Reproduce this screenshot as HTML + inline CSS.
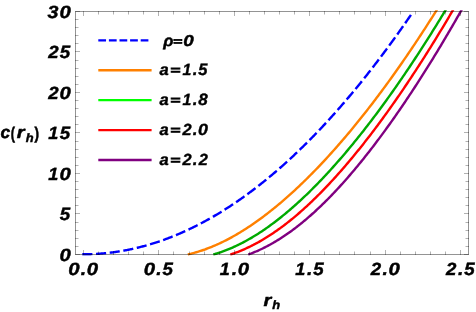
<!DOCTYPE html>
<html><head><meta charset="utf-8"><title>plot</title>
<style>
html,body{margin:0;padding:0;background:#fff;}
body{width:476px;height:312px;overflow:hidden;}
svg{display:block}
text{font-family:"Liberation Sans",sans-serif;font-weight:bold;font-style:italic;fill:#000;text-rendering:geometricPrecision;}
</style></head><body>
<svg width="476" height="312" viewBox="0 0 476 312">
<rect width="476" height="312" fill="#fff"/>
<defs><clipPath id="cp"><rect x="75.50" y="10.20" width="393.00" height="245.60"/></clipPath></defs>

<g clip-path="url(#cp)" fill="none" stroke-width="2.4" stroke-linejoin="round">
<path d="M82.29 254.30 L83.12 254.30 L83.94 254.30 L84.76 254.29 L85.59 254.29 L86.41 254.28 L87.24 254.26 L88.06 254.25 L88.88 254.23 L89.71 254.21 L90.53 254.18 L91.35 254.15 L92.18 254.12 L93.00 254.09 L93.82 254.05 L94.65 254.01 L95.47 253.96 L96.30 253.92 L97.12 253.87 L97.94 253.82 L98.77 253.76 L99.59 253.70 L100.41 253.64 L101.24 253.57 L102.06 253.51 L102.89 253.44 L103.71 253.36 L104.53 253.29 L105.36 253.21 L106.18 253.12 L107.00 253.04 L107.83 252.95 L108.65 252.86 L109.47 252.76 L110.30 252.66 L111.12 252.56 L111.95 252.46 L112.77 252.35 L113.59 252.24 L114.42 252.13 L115.24 252.01 L116.06 251.89 L116.89 251.77 L117.71 251.65 L118.53 251.52 L119.36 251.39 L120.18 251.25 L121.01 251.11 L121.83 250.97 L122.65 250.83 L123.48 250.68 L124.30 250.53 L125.12 250.38 L125.95 250.23 L126.77 250.07 L127.59 249.91 L128.42 249.74 L129.24 249.57 L130.07 249.40 L130.89 249.23 L131.71 249.05 L132.54 248.87 L133.36 248.69 L134.18 248.51 L135.01 248.32 L135.83 248.13 L136.66 247.93 L137.48 247.73 L138.30 247.53 L139.13 247.33 L139.95 247.12 L140.77 246.91 L141.60 246.70 L142.42 246.48 L143.24 246.26 L144.07 246.04 L144.89 245.82 L145.72 245.59 L146.54 245.36 L147.36 245.12 L148.19 244.89 L149.01 244.65 L149.83 244.40 L150.66 244.16 L151.48 243.91 L152.30 243.65 L153.13 243.40 L153.95 243.14 L154.78 242.88 L155.60 242.62 L156.42 242.35 L157.25 242.08 L158.07 241.80 L158.89 241.53 L159.72 241.25 L160.54 240.97 L161.37 240.68 L162.19 240.39 L163.01 240.10 L163.84 239.81 L164.66 239.51 L165.48 239.21 L166.31 238.90 L167.13 238.60 L167.95 238.29 L168.78 237.97 L169.60 237.66 L170.43 237.34 L171.25 237.02 L172.07 236.69 L172.90 236.37 L173.72 236.03 L174.54 235.70 L175.37 235.36 L176.19 235.02 L177.01 234.68 L177.84 234.33 L178.66 233.99 L179.49 233.63 L180.31 233.28 L181.13 232.92 L181.96 232.56 L182.78 232.20 L183.60 231.83 L184.43 231.46 L185.25 231.08 L186.08 230.71 L186.90 230.33 L187.72 229.95 L188.55 229.56 L189.37 229.17 L190.19 228.78 L191.02 228.39 L191.84 227.99 L192.66 227.59 L193.49 227.19 L194.31 226.78 L195.14 226.37 L195.96 225.96 L196.78 225.54 L197.61 225.12 L198.43 224.70 L199.25 224.28 L200.08 223.85 L200.90 223.42 L201.72 222.98 L202.55 222.55 L203.37 222.11 L204.20 221.67 L205.02 221.22 L205.84 220.77 L206.67 220.32 L207.49 219.86 L208.31 219.41 L209.14 218.95 L209.96 218.48 L210.79 218.01 L211.61 217.54 L212.43 217.07 L213.26 216.60 L214.08 216.12 L214.90 215.63 L215.73 215.15 L216.55 214.66 L217.37 214.17 L218.20 213.68 L219.02 213.18 L219.85 212.68 L220.67 212.17 L221.49 211.67 L222.32 211.16 L223.14 210.65 L223.96 210.13 L224.79 209.61 L225.61 209.09 L226.43 208.57 L227.26 208.04 L228.08 207.51 L228.91 206.98 L229.73 206.44 L230.55 205.90 L231.38 205.36 L232.20 204.81 L233.02 204.26 L233.85 203.71 L234.67 203.16 L235.50 202.60 L236.32 202.04 L237.14 201.47 L237.97 200.91 L238.79 200.34 L239.61 199.76 L240.44 199.19 L241.26 198.61 L242.08 198.03 L242.91 197.44 L243.73 196.85 L244.56 196.26 L245.38 195.67 L246.20 195.07 L247.03 194.47 L247.85 193.87 L248.67 193.26 L249.50 192.65 L250.32 192.04 L251.14 191.43 L251.97 190.81 L252.79 190.19 L253.62 189.56 L254.44 188.94 L255.26 188.30 L256.09 187.67 L256.91 187.04 L257.73 186.40 L258.56 185.75 L259.38 185.11 L260.21 184.46 L261.03 183.81 L261.85 183.15 L262.68 182.50 L263.50 181.84 L264.32 181.17 L265.15 180.51 L265.97 179.84 L266.79 179.16 L267.62 178.49 L268.44 177.81 L269.27 177.13 L270.09 176.44 L270.91 175.75 L271.74 175.06 L272.56 174.37 L273.38 173.67 L274.21 172.97 L275.03 172.27 L275.85 171.56 L276.68 170.85 L277.50 170.14 L278.33 169.43 L279.15 168.71 L279.97 167.99 L280.80 167.26 L281.62 166.54 L282.44 165.81 L283.27 165.07 L284.09 164.34 L284.92 163.60 L285.74 162.86 L286.56 162.11 L287.39 161.36 L288.21 160.61 L289.03 159.86 L289.86 159.10 L290.68 158.34 L291.50 157.58 L292.33 156.81 L293.15 156.04 L293.98 155.27 L294.80 154.49 L295.62 153.71 L296.45 152.93 L297.27 152.15 L298.09 151.36 L298.92 150.57 L299.74 149.78 L300.56 148.98 L301.39 148.18 L302.21 147.38 L303.04 146.57 L303.86 145.76 L304.68 144.95 L305.51 144.14 L306.33 143.32 L307.15 142.50 L307.98 141.67 L308.80 140.85 L309.63 140.02 L310.45 139.18 L311.27 138.35 L312.10 137.51 L312.92 136.67 L313.74 135.82 L314.57 134.97 L315.39 134.12 L316.21 133.27 L317.04 132.41 L317.86 131.55 L318.69 130.69 L319.51 129.82 L320.33 128.95 L321.16 128.08 L321.98 127.20 L322.80 126.33 L323.63 125.44 L324.45 124.56 L325.27 123.67 L326.10 122.78 L326.92 121.89 L327.75 120.99 L328.57 120.09 L329.39 119.19 L330.22 118.28 L331.04 117.38 L331.86 116.46 L332.69 115.55 L333.51 114.63 L334.34 113.71 L335.16 112.79 L335.98 111.86 L336.81 110.93 L337.63 110.00 L338.45 109.06 L339.28 108.12 L340.10 107.18 L340.92 106.24 L341.75 105.29 L342.57 104.34 L343.40 103.38 L344.22 102.43 L345.04 101.47 L345.87 100.50 L346.69 99.54 L347.51 98.57 L348.34 97.60 L349.16 96.62 L349.98 95.64 L350.81 94.66 L351.63 93.68 L352.46 92.69 L353.28 91.70 L354.10 90.71 L354.93 89.71 L355.75 88.71 L356.57 87.71 L357.40 86.70 L358.22 85.70 L359.04 84.68 L359.87 83.67 L360.69 82.65 L361.52 81.63 L362.34 80.61 L363.16 79.58 L363.99 78.55 L364.81 77.52 L365.63 76.48 L366.46 75.45 L367.28 74.40 L368.11 73.36 L368.93 72.31 L369.75 71.26 L370.58 70.21 L371.40 69.15 L372.22 68.09 L373.05 67.03 L373.87 65.96 L374.69 64.89 L375.52 63.82 L376.34 62.75 L377.17 61.67 L377.99 60.59 L378.81 59.50 L379.64 58.42 L380.46 57.33 L381.28 56.23 L382.11 55.14 L382.93 54.04 L383.75 52.94 L384.58 51.83 L385.40 50.72 L386.23 49.61 L387.05 48.50 L387.87 47.38 L388.70 46.26 L389.52 45.14 L390.34 44.01 L391.17 42.88 L391.99 41.75 L392.82 40.61 L393.64 39.47 L394.46 38.33 L395.29 37.19 L396.11 36.04 L396.93 34.89 L397.76 33.74 L398.58 32.58 L399.40 31.42 L400.23 30.26 L401.05 29.09 L401.88 27.92 L402.70 26.75 L403.52 25.58 L404.35 24.40 L405.17 23.22 L405.99 22.03 L406.82 20.85 L407.64 19.66 L408.46 18.46 L409.29 17.27 L410.11 16.07 L410.94 14.87" stroke="#0000ff" stroke-dasharray="10.129 3.620"/>
<path d="M187.80 254.48 L189.21 254.14 L190.62 253.80 L192.03 253.44 L193.44 253.06 L194.85 252.67 L196.26 252.26 L197.67 251.84 L199.09 251.41 L200.50 250.96 L201.91 250.49 L203.32 250.01 L204.73 249.51 L206.14 249.00 L207.55 248.48 L208.96 247.94 L210.37 247.38 L211.78 246.81 L213.19 246.23 L214.60 245.63 L216.01 245.01 L217.42 244.39 L218.83 243.74 L220.24 243.09 L221.65 242.42 L223.07 241.73 L224.48 241.03 L225.89 240.32 L227.30 239.59 L228.71 238.85 L230.12 238.10 L231.53 237.33 L232.94 236.55 L234.35 235.76 L235.76 234.95 L237.17 234.13 L238.58 233.29 L239.99 232.45 L241.40 231.59 L242.81 230.71 L244.22 229.83 L245.63 228.93 L247.04 228.02 L248.46 227.10 L249.87 226.16 L251.28 225.21 L252.69 224.25 L254.10 223.28 L255.51 222.29 L256.92 221.29 L258.33 220.28 L259.74 219.26 L261.15 218.23 L262.56 217.18 L263.97 216.13 L265.38 215.06 L266.79 213.98 L268.20 212.89 L269.61 211.78 L271.02 210.67 L272.44 209.54 L273.85 208.40 L275.26 207.25 L276.67 206.09 L278.08 204.92 L279.49 203.74 L280.90 202.55 L282.31 201.34 L283.72 200.13 L285.13 198.90 L286.54 197.67 L287.95 196.42 L289.36 195.16 L290.77 193.89 L292.18 192.61 L293.59 191.32 L295.00 190.02 L296.41 188.71 L297.83 187.39 L299.24 186.05 L300.65 184.71 L302.06 183.36 L303.47 181.99 L304.88 180.62 L306.29 179.24 L307.70 177.84 L309.11 176.44 L310.52 175.02 L311.93 173.60 L313.34 172.16 L314.75 170.72 L316.16 169.27 L317.57 167.80 L318.98 166.33 L320.39 164.84 L321.81 163.35 L323.22 161.84 L324.63 160.33 L326.04 158.81 L327.45 157.27 L328.86 155.73 L330.27 154.18 L331.68 152.61 L333.09 151.04 L334.50 149.46 L335.91 147.87 L337.32 146.26 L338.73 144.65 L340.14 143.03 L341.55 141.40 L342.96 139.76 L344.37 138.11 L345.79 136.46 L347.20 134.79 L348.61 133.11 L350.02 131.42 L351.43 129.73 L352.84 128.02 L354.25 126.30 L355.66 124.58 L357.07 122.84 L358.48 121.10 L359.89 119.35 L361.30 117.59 L362.71 115.81 L364.12 114.03 L365.53 112.24 L366.94 110.44 L368.35 108.63 L369.76 106.82 L371.18 104.99 L372.59 103.15 L374.00 101.31 L375.41 99.45 L376.82 97.59 L378.23 95.71 L379.64 93.83 L381.05 91.94 L382.46 90.04 L383.87 88.13 L385.28 86.21 L386.69 84.28 L388.10 82.34 L389.51 80.40 L390.92 78.44 L392.33 76.48 L393.74 74.50 L395.16 72.52 L396.57 70.53 L397.98 68.53 L399.39 66.52 L400.80 64.50 L402.21 62.47 L403.62 60.43 L405.03 58.38 L406.44 56.33 L407.85 54.26 L409.26 52.19 L410.67 50.11 L412.08 48.02 L413.49 45.92 L414.90 43.81 L416.31 41.69 L417.72 39.56 L419.13 37.42 L420.55 35.28 L421.96 33.12 L423.37 30.96 L424.78 28.79 L426.19 26.61 L427.60 24.41 L429.01 22.22 L430.42 20.01 L431.83 17.79 L433.24 15.56 L434.65 13.33 L436.06 11.08 L437.47 8.83 L438.88 6.57 L440.29 4.30 L441.70 2.02 L443.11 -0.27 L444.53 -2.57 L445.94 -4.87 L447.35 -7.19 L448.76 -9.51 L450.17 -11.85 L451.58 -14.19 L452.99 -16.54 L454.40 -18.90 L455.81 -21.27 L457.22 -23.65 L458.63 -26.04 L460.04 -28.43 L461.45 -30.84 L462.86 -33.25 L464.27 -35.67 L465.68 -38.10 L467.09 -40.54 L468.50 -42.99" stroke="#ff8000"/>
<path d="M213.33 254.52 L214.61 254.15 L215.89 253.76 L217.17 253.36 L218.46 252.95 L219.74 252.52 L221.02 252.08 L222.30 251.63 L223.59 251.16 L224.87 250.68 L226.15 250.19 L227.43 249.69 L228.72 249.17 L230.00 248.64 L231.28 248.09 L232.56 247.53 L233.84 246.96 L235.13 246.37 L236.41 245.78 L237.69 245.17 L238.97 244.54 L240.26 243.90 L241.54 243.25 L242.82 242.59 L244.10 241.91 L245.39 241.23 L246.67 240.52 L247.95 239.81 L249.23 239.08 L250.51 238.34 L251.80 237.59 L253.08 236.83 L254.36 236.05 L255.64 235.26 L256.93 234.46 L258.21 233.64 L259.49 232.82 L260.77 231.98 L262.06 231.13 L263.34 230.27 L264.62 229.39 L265.90 228.51 L267.18 227.61 L268.47 226.70 L269.75 225.78 L271.03 224.84 L272.31 223.90 L273.60 222.94 L274.88 221.97 L276.16 221.00 L277.44 220.01 L278.73 219.00 L280.01 217.99 L281.29 216.97 L282.57 215.93 L283.85 214.89 L285.14 213.83 L286.42 212.76 L287.70 211.69 L288.98 210.60 L290.27 209.50 L291.55 208.39 L292.83 207.27 L294.11 206.14 L295.40 204.99 L296.68 203.84 L297.96 202.68 L299.24 201.51 L300.52 200.33 L301.81 199.13 L303.09 197.93 L304.37 196.72 L305.65 195.50 L306.94 194.26 L308.22 193.02 L309.50 191.77 L310.78 190.51 L312.06 189.23 L313.35 187.95 L314.63 186.66 L315.91 185.36 L317.19 184.05 L318.48 182.73 L319.76 181.40 L321.04 180.06 L322.32 178.72 L323.61 177.36 L324.89 175.99 L326.17 174.62 L327.45 173.23 L328.73 171.84 L330.02 170.44 L331.30 169.03 L332.58 167.60 L333.86 166.17 L335.15 164.74 L336.43 163.29 L337.71 161.83 L338.99 160.37 L340.28 158.89 L341.56 157.41 L342.84 155.92 L344.12 154.42 L345.40 152.91 L346.69 151.39 L347.97 149.86 L349.25 148.33 L350.53 146.79 L351.82 145.23 L353.10 143.67 L354.38 142.11 L355.66 140.53 L356.95 138.94 L358.23 137.35 L359.51 135.75 L360.79 134.13 L362.07 132.52 L363.36 130.89 L364.64 129.25 L365.92 127.61 L367.20 125.96 L368.49 124.30 L369.77 122.63 L371.05 120.95 L372.33 119.27 L373.62 117.57 L374.90 115.87 L376.18 114.16 L377.46 112.45 L378.74 110.72 L380.03 108.99 L381.31 107.25 L382.59 105.50 L383.87 103.74 L385.16 101.98 L386.44 100.21 L387.72 98.42 L389.00 96.64 L390.28 94.84 L391.57 93.03 L392.85 91.22 L394.13 89.40 L395.41 87.58 L396.70 85.74 L397.98 83.90 L399.26 82.04 L400.54 80.19 L401.83 78.32 L403.11 76.44 L404.39 74.56 L405.67 72.67 L406.95 70.78 L408.24 68.87 L409.52 66.96 L410.80 65.04 L412.08 63.11 L413.37 61.17 L414.65 59.23 L415.93 57.28 L417.21 55.32 L418.50 53.35 L419.78 51.38 L421.06 49.40 L422.34 47.41 L423.62 45.41 L424.91 43.41 L426.19 41.40 L427.47 39.38 L428.75 37.35 L430.04 35.32 L431.32 33.27 L432.60 31.22 L433.88 29.17 L435.17 27.10 L436.45 25.03 L437.73 22.95 L439.01 20.86 L440.29 18.77 L441.58 16.67 L442.86 14.56 L444.14 12.44 L445.42 10.32 L446.71 8.19 L447.99 6.05 L449.27 3.90 L450.55 1.75 L451.84 -0.41 L453.12 -2.58 L454.40 -4.76 L455.68 -6.94 L456.96 -9.13 L458.25 -11.33 L459.53 -13.54 L460.81 -15.75 L462.09 -17.97 L463.38 -20.20 L464.66 -22.43 L465.94 -24.67 L467.22 -26.92 L468.50 -29.18" stroke="#00aa00"/>
<path d="M230.34 254.55 L231.54 254.15 L232.73 253.75 L233.93 253.33 L235.13 252.90 L236.32 252.46 L237.52 252.01 L238.72 251.55 L239.91 251.07 L241.11 250.58 L242.31 250.08 L243.50 249.57 L244.70 249.05 L245.90 248.51 L247.09 247.96 L248.29 247.40 L249.49 246.83 L250.69 246.25 L251.88 245.65 L253.08 245.04 L254.28 244.42 L255.47 243.79 L256.67 243.15 L257.87 242.49 L259.06 241.83 L260.26 241.15 L261.46 240.46 L262.65 239.76 L263.85 239.05 L265.05 238.32 L266.24 237.58 L267.44 236.84 L268.64 236.08 L269.83 235.31 L271.03 234.53 L272.23 233.73 L273.42 232.93 L274.62 232.11 L275.82 231.29 L277.01 230.45 L278.21 229.60 L279.41 228.74 L280.61 227.87 L281.80 226.98 L283.00 226.09 L284.20 225.19 L285.39 224.27 L286.59 223.35 L287.79 222.41 L288.98 221.47 L290.18 220.51 L291.38 219.54 L292.57 218.56 L293.77 217.57 L294.97 216.58 L296.16 215.57 L297.36 214.55 L298.56 213.52 L299.75 212.48 L300.95 211.43 L302.15 210.37 L303.34 209.30 L304.54 208.22 L305.74 207.13 L306.94 206.03 L308.13 204.92 L309.33 203.80 L310.53 202.67 L311.72 201.53 L312.92 200.39 L314.12 199.23 L315.31 198.06 L316.51 196.89 L317.71 195.70 L318.90 194.51 L320.10 193.30 L321.30 192.09 L322.49 190.87 L323.69 189.63 L324.89 188.39 L326.08 187.14 L327.28 185.88 L328.48 184.62 L329.67 183.34 L330.87 182.05 L332.07 180.76 L333.27 179.46 L334.46 178.14 L335.66 176.82 L336.86 175.50 L338.05 174.16 L339.25 172.81 L340.45 171.46 L341.64 170.09 L342.84 168.72 L344.04 167.34 L345.23 165.95 L346.43 164.55 L347.63 163.15 L348.82 161.74 L350.02 160.31 L351.22 158.88 L352.41 157.45 L353.61 156.00 L354.81 154.55 L356.00 153.08 L357.20 151.61 L358.40 150.13 L359.60 148.65 L360.79 147.15 L361.99 145.65 L363.19 144.14 L364.38 142.62 L365.58 141.10 L366.78 139.56 L367.97 138.02 L369.17 136.47 L370.37 134.92 L371.56 133.35 L372.76 131.78 L373.96 130.20 L375.15 128.62 L376.35 127.02 L377.55 125.42 L378.74 123.81 L379.94 122.19 L381.14 120.57 L382.33 118.94 L383.53 117.30 L384.73 115.65 L385.92 113.99 L387.12 112.33 L388.32 110.66 L389.52 108.99 L390.71 107.30 L391.91 105.61 L393.11 103.92 L394.30 102.21 L395.50 100.50 L396.70 98.78 L397.89 97.05 L399.09 95.32 L400.29 93.58 L401.48 91.83 L402.68 90.07 L403.88 88.31 L405.07 86.54 L406.27 84.77 L407.47 82.98 L408.66 81.19 L409.86 79.40 L411.06 77.59 L412.25 75.78 L413.45 73.96 L414.65 72.14 L415.85 70.30 L417.04 68.47 L418.24 66.62 L419.44 64.77 L420.63 62.91 L421.83 61.04 L423.03 59.17 L424.22 57.29 L425.42 55.40 L426.62 53.51 L427.81 51.61 L429.01 49.70 L430.21 47.78 L431.40 45.86 L432.60 43.94 L433.80 42.00 L434.99 40.06 L436.19 38.11 L437.39 36.16 L438.58 34.20 L439.78 32.23 L440.98 30.25 L442.18 28.27 L443.37 26.29 L444.57 24.29 L445.77 22.29 L446.96 20.28 L448.16 18.27 L449.36 16.25 L450.55 14.22 L451.75 12.19 L452.95 10.14 L454.14 8.10 L455.34 6.04 L456.54 3.98 L457.73 1.92 L458.93 -0.16 L460.13 -2.24 L461.32 -4.32 L462.52 -6.42 L463.72 -8.52 L464.91 -10.62 L466.11 -12.74 L467.31 -14.86 L468.50 -16.98" stroke="#ff0000"/>
<path d="M248.28 254.58 L249.39 254.17 L250.49 253.75 L251.60 253.32 L252.71 252.89 L253.81 252.44 L254.92 251.98 L256.03 251.51 L257.13 251.03 L258.24 250.54 L259.35 250.03 L260.45 249.52 L261.56 249.00 L262.67 248.46 L263.77 247.92 L264.88 247.37 L265.99 246.80 L267.09 246.23 L268.20 245.64 L269.31 245.04 L270.41 244.44 L271.52 243.82 L272.63 243.19 L273.73 242.55 L274.84 241.90 L275.95 241.24 L277.05 240.57 L278.16 239.89 L279.27 239.20 L280.37 238.50 L281.48 237.79 L282.59 237.06 L283.69 236.33 L284.80 235.59 L285.91 234.83 L287.01 234.07 L288.12 233.30 L289.23 232.51 L290.33 231.72 L291.44 230.92 L292.55 230.10 L293.65 229.28 L294.76 228.44 L295.87 227.60 L296.97 226.75 L298.08 225.88 L299.19 225.01 L300.29 224.13 L301.40 223.23 L302.51 222.33 L303.61 221.42 L304.72 220.50 L305.83 219.56 L306.93 218.62 L308.04 217.67 L309.15 216.71 L310.25 215.74 L311.36 214.76 L312.47 213.77 L313.57 212.77 L314.68 211.77 L315.79 210.75 L316.89 209.72 L318.00 208.69 L319.11 207.65 L320.21 206.59 L321.32 205.53 L322.43 204.46 L323.53 203.38 L324.64 202.29 L325.75 201.19 L326.85 200.09 L327.96 198.97 L329.07 197.85 L330.17 196.71 L331.28 195.57 L332.39 194.42 L333.49 193.26 L334.60 192.10 L335.71 190.92 L336.81 189.74 L337.92 188.54 L339.03 187.34 L340.13 186.13 L341.24 184.92 L342.35 183.69 L343.45 182.46 L344.56 181.21 L345.67 179.96 L346.77 178.70 L347.88 177.44 L348.99 176.16 L350.09 174.88 L351.20 173.59 L352.31 172.29 L353.41 170.99 L354.52 169.67 L355.63 168.35 L356.73 167.02 L357.84 165.68 L358.95 164.34 L360.05 162.99 L361.16 161.63 L362.27 160.26 L363.37 158.88 L364.48 157.50 L365.59 156.11 L366.69 154.71 L367.80 153.31 L368.91 151.90 L370.01 150.48 L371.12 149.05 L372.23 147.61 L373.33 146.17 L374.44 144.72 L375.55 143.27 L376.65 141.80 L377.76 140.33 L378.87 138.86 L379.97 137.37 L381.08 135.88 L382.19 134.38 L383.29 132.88 L384.40 131.36 L385.51 129.84 L386.61 128.32 L387.72 126.78 L388.83 125.24 L389.93 123.70 L391.04 122.14 L392.15 120.58 L393.25 119.01 L394.36 117.44 L395.47 115.86 L396.57 114.27 L397.68 112.68 L398.79 111.08 L399.89 109.47 L401.00 107.86 L402.11 106.24 L403.21 104.61 L404.32 102.97 L405.43 101.33 L406.53 99.69 L407.64 98.03 L408.75 96.37 L409.85 94.71 L410.96 93.04 L412.07 91.36 L413.17 89.67 L414.28 87.98 L415.39 86.28 L416.49 84.58 L417.60 82.87 L418.71 81.15 L419.81 79.43 L420.92 77.70 L422.03 75.96 L423.13 74.22 L424.24 72.47 L425.35 70.72 L426.45 68.96 L427.56 67.19 L428.67 65.42 L429.77 63.64 L430.88 61.85 L431.99 60.06 L433.09 58.27 L434.20 56.46 L435.31 54.65 L436.41 52.84 L437.52 51.02 L438.63 49.19 L439.73 47.36 L440.84 45.52 L441.95 43.67 L443.05 41.82 L444.16 39.97 L445.27 38.10 L446.37 36.23 L447.48 34.36 L448.59 32.48 L449.69 30.59 L450.80 28.70 L451.91 26.80 L453.01 24.90 L454.12 22.99 L455.23 21.07 L456.33 19.15 L457.44 17.22 L458.55 15.29 L459.65 13.35 L460.76 11.40 L461.87 9.45 L462.97 7.50 L464.08 5.54 L465.19 3.57 L466.29 1.59 L467.40 -0.39 L468.50 -2.37" stroke="#800080"/>
</g>
<path d="M83.5 255.0v-5.0M83.5 11.0v5.0M98.5 255.0v-3.5M98.5 11.0v3.5M113.5 255.0v-3.5M113.5 11.0v3.5M128.5 255.0v-3.5M128.5 11.0v3.5M143.5 255.0v-3.5M143.5 11.0v3.5M158.5 255.0v-5.0M158.5 11.0v5.0M173.5 255.0v-3.5M173.5 11.0v3.5M189.5 255.0v-3.5M189.5 11.0v3.5M204.5 255.0v-3.5M204.5 11.0v3.5M219.5 255.0v-3.5M219.5 11.0v3.5M234.5 255.0v-5.0M234.5 11.0v5.0M249.5 255.0v-3.5M249.5 11.0v3.5M264.5 255.0v-3.5M264.5 11.0v3.5M279.5 255.0v-3.5M279.5 11.0v3.5M294.5 255.0v-3.5M294.5 11.0v3.5M309.5 255.0v-5.0M309.5 11.0v5.0M324.5 255.0v-3.5M324.5 11.0v3.5M339.5 255.0v-3.5M339.5 11.0v3.5M354.5 255.0v-3.5M354.5 11.0v3.5M370.5 255.0v-3.5M370.5 11.0v3.5M385.5 255.0v-5.0M385.5 11.0v5.0M400.5 255.0v-3.5M400.5 11.0v3.5M415.5 255.0v-3.5M415.5 11.0v3.5M430.5 255.0v-3.5M430.5 11.0v3.5M445.5 255.0v-3.5M445.5 11.0v3.5M460.5 255.0v-5.0M460.5 11.0v5.0M75.0 254.5h5.0M469.0 254.5h-5.0M75.0 246.5h3.5M469.0 246.5h-3.5M75.0 238.5h3.5M469.0 238.5h-3.5M75.0 230.5h3.5M469.0 230.5h-3.5M75.0 222.5h3.5M469.0 222.5h-3.5M75.0 213.5h5.0M469.0 213.5h-5.0M75.0 205.5h3.5M469.0 205.5h-3.5M75.0 197.5h3.5M469.0 197.5h-3.5M75.0 189.5h3.5M469.0 189.5h-3.5M75.0 181.5h3.5M469.0 181.5h-3.5M75.0 173.5h5.0M469.0 173.5h-5.0M75.0 165.5h3.5M469.0 165.5h-3.5M75.0 157.5h3.5M469.0 157.5h-3.5M75.0 149.5h3.5M469.0 149.5h-3.5M75.0 141.5h3.5M469.0 141.5h-3.5M75.0 132.5h5.0M469.0 132.5h-5.0M75.0 124.5h3.5M469.0 124.5h-3.5M75.0 116.5h3.5M469.0 116.5h-3.5M75.0 108.5h3.5M469.0 108.5h-3.5M75.0 100.5h3.5M469.0 100.5h-3.5M75.0 92.5h5.0M469.0 92.5h-5.0M75.0 84.5h3.5M469.0 84.5h-3.5M75.0 76.5h3.5M469.0 76.5h-3.5M75.0 68.5h3.5M469.0 68.5h-3.5M75.0 60.5h3.5M469.0 60.5h-3.5M75.0 51.5h5.0M469.0 51.5h-5.0M75.0 43.5h3.5M469.0 43.5h-3.5M75.0 35.5h3.5M469.0 35.5h-3.5M75.0 27.5h3.5M469.0 27.5h-3.5M75.0 19.5h3.5M469.0 19.5h-3.5M75.0 11.5h5.0M469.0 11.5h-5.0" stroke="#000" stroke-opacity="0.30" stroke-width="1" fill="none"/>
<rect x="75.5" y="11.5" width="393.0" height="243.0" fill="none" stroke="#000" stroke-opacity="0.42" stroke-width="1"/>
<path d="M98.3 40.35H148.4" stroke="#0000ff" stroke-width="2.3" stroke-dasharray="7.75 2.85" fill="none"/>
<path d="M98.3 70.25H151.6" stroke="#ff8000" stroke-width="2.3" fill="none"/>
<path d="M98.3 100.20H151.6" stroke="#00ff00" stroke-width="2.3" fill="none"/>
<path d="M98.3 130.10H151.6" stroke="#ff0000" stroke-width="2.3" fill="none"/>
<path d="M98.3 160.00H151.6" stroke="#800080" stroke-width="2.3" fill="none"/>
<g opacity="0.999">
<text transform="translate(59.56 260.69) scale(1.273 1.106)" font-size="16" stroke="#000" stroke-width="0.38">0</text>
<text transform="translate(59.79 219.69) scale(1.171 1.109)" font-size="16" stroke="#000" stroke-width="0.39">5</text>
<text transform="translate(48.25 179.62) scale(1.128 1.103)" font-size="16" stroke="#000" stroke-width="0.40">1</text>
<text transform="translate(59.56 179.69) scale(1.273 1.106)" font-size="16" stroke="#000" stroke-width="0.38">0</text>
<text transform="translate(48.25 138.62) scale(1.128 1.103)" font-size="16" stroke="#000" stroke-width="0.40">1</text>
<text transform="translate(59.79 138.69) scale(1.171 1.109)" font-size="16" stroke="#000" stroke-width="0.39">5</text>
<text transform="translate(48.20 98.62) scale(1.164 1.100)" font-size="16" stroke="#000" stroke-width="0.40">2</text>
<text transform="translate(59.56 98.69) scale(1.273 1.106)" font-size="16" stroke="#000" stroke-width="0.38">0</text>
<text transform="translate(48.20 57.62) scale(1.164 1.100)" font-size="16" stroke="#000" stroke-width="0.40">2</text>
<text transform="translate(59.79 57.69) scale(1.171 1.109)" font-size="16" stroke="#000" stroke-width="0.39">5</text>
<text transform="translate(47.59 17.69) scale(1.228 1.106)" font-size="16" stroke="#000" stroke-width="0.39">3</text>
<text transform="translate(59.56 17.69) scale(1.273 1.106)" font-size="16" stroke="#000" stroke-width="0.38">0</text>
<text transform="translate(68.34 275.09) scale(1.273 1.106)" font-size="16" stroke="#000" stroke-width="0.38">0</text>
<text transform="translate(80.81 275.02) scale(1.217 1.167)" font-size="16" stroke="#000" stroke-width="0.38">.</text>
<text transform="translate(86.84 275.09) scale(1.273 1.106)" font-size="16" stroke="#000" stroke-width="0.38">0</text>
<text transform="translate(143.77 275.09) scale(1.273 1.106)" font-size="16" stroke="#000" stroke-width="0.38">0</text>
<text transform="translate(156.24 275.02) scale(1.217 1.167)" font-size="16" stroke="#000" stroke-width="0.38">.</text>
<text transform="translate(162.51 275.09) scale(1.171 1.109)" font-size="16" stroke="#000" stroke-width="0.39">5</text>
<text transform="translate(219.86 275.02) scale(1.128 1.103)" font-size="16" stroke="#000" stroke-width="0.40">1</text>
<text transform="translate(231.67 275.02) scale(1.217 1.167)" font-size="16" stroke="#000" stroke-width="0.38">.</text>
<text transform="translate(237.70 275.09) scale(1.273 1.106)" font-size="16" stroke="#000" stroke-width="0.38">0</text>
<text transform="translate(295.29 275.02) scale(1.128 1.103)" font-size="16" stroke="#000" stroke-width="0.40">1</text>
<text transform="translate(307.10 275.02) scale(1.217 1.167)" font-size="16" stroke="#000" stroke-width="0.38">.</text>
<text transform="translate(313.37 275.09) scale(1.171 1.109)" font-size="16" stroke="#000" stroke-width="0.39">5</text>
<text transform="translate(370.67 275.02) scale(1.164 1.100)" font-size="16" stroke="#000" stroke-width="0.40">2</text>
<text transform="translate(382.53 275.02) scale(1.217 1.167)" font-size="16" stroke="#000" stroke-width="0.38">.</text>
<text transform="translate(388.56 275.09) scale(1.273 1.106)" font-size="16" stroke="#000" stroke-width="0.38">0</text>
<text transform="translate(446.10 275.02) scale(1.164 1.100)" font-size="16" stroke="#000" stroke-width="0.40">2</text>
<text transform="translate(457.96 275.02) scale(1.217 1.167)" font-size="16" stroke="#000" stroke-width="0.38">.</text>
<text transform="translate(464.23 275.09) scale(1.171 1.109)" font-size="16" stroke="#000" stroke-width="0.39">5</text>
<text transform="translate(263.58 305.85) scale(1.257 1.067)" font-size="16" stroke="#000" stroke-width="0.43">r</text>
<text transform="translate(272.34 309.17) scale(0.806 0.754)" font-size="16" stroke="#000" stroke-width="0.58">h</text>
<text transform="translate(0.62 137.82) scale(1.085 1.075)" font-size="16" stroke="#000" stroke-width="0.46">c</text>
<text transform="translate(10.68 138.69) scale(0.781 1.055)" font-size="16" stroke="#000" stroke-width="0.54" style="font-style:normal">(</text>
<text transform="translate(16.83 138.15) scale(1.257 1.067)" font-size="16" stroke="#000" stroke-width="0.43">r</text>
<text transform="translate(25.64 141.97) scale(0.806 0.754)" font-size="16" stroke="#000" stroke-width="0.58">h</text>
<text transform="translate(34.53 138.69) scale(0.848 1.055)" font-size="16" stroke="#000" stroke-width="0.53" style="font-style:normal">)</text>
<text transform="translate(163.26 45.61) scale(1.045 0.994)" font-size="16" stroke="#000" stroke-width="0.44">ρ</text>
<text transform="translate(173.11 45.04) scale(0.975 0.683)" font-size="16" stroke="#000" stroke-width="1.09">=</text>
<text transform="translate(183.17 45.62) scale(1.182 0.990)" font-size="16" stroke="#000" stroke-width="0.41">0</text>
<text transform="translate(159.38 75.06) scale(1.030 0.995)" font-size="16" stroke="#000" stroke-width="0.40">a</text>
<text transform="translate(170.24 74.15) scale(1.063 0.731)" font-size="16" stroke="#000" stroke-width="1.06">=</text>
<text transform="translate(182.45 75.00) scale(0.990 1.014)" font-size="16" stroke="#000" stroke-width="0.40">1</text>
<text transform="translate(192.81 75.00) scale(1.066 1.077)" font-size="16" stroke="#000" stroke-width="0.37">.</text>
<text transform="translate(198.32 75.06) scale(1.028 1.020)" font-size="16" stroke="#000" stroke-width="0.39">5</text>
<text transform="translate(159.38 105.01) scale(1.030 0.995)" font-size="16" stroke="#000" stroke-width="0.40">a</text>
<text transform="translate(170.24 104.10) scale(1.063 0.731)" font-size="16" stroke="#000" stroke-width="1.06">=</text>
<text transform="translate(182.45 104.95) scale(0.990 1.014)" font-size="16" stroke="#000" stroke-width="0.40">1</text>
<text transform="translate(192.81 104.95) scale(1.066 1.077)" font-size="16" stroke="#000" stroke-width="0.37">.</text>
<text transform="translate(198.36 105.01) scale(1.067 1.024)" font-size="16" stroke="#000" stroke-width="0.38">8</text>
<text transform="translate(159.38 134.91) scale(1.030 0.995)" font-size="16" stroke="#000" stroke-width="0.40">a</text>
<text transform="translate(170.24 134.00) scale(1.063 0.731)" font-size="16" stroke="#000" stroke-width="1.06">=</text>
<text transform="translate(182.40 134.85) scale(1.021 1.011)" font-size="16" stroke="#000" stroke-width="0.39">2</text>
<text transform="translate(192.81 134.85) scale(1.066 1.077)" font-size="16" stroke="#000" stroke-width="0.37">.</text>
<text transform="translate(198.12 134.91) scale(1.117 1.017)" font-size="16" stroke="#000" stroke-width="0.37">0</text>
<text transform="translate(159.38 164.81) scale(1.030 0.995)" font-size="16" stroke="#000" stroke-width="0.40">a</text>
<text transform="translate(170.24 163.90) scale(1.063 0.731)" font-size="16" stroke="#000" stroke-width="1.06">=</text>
<text transform="translate(182.40 164.75) scale(1.021 1.011)" font-size="16" stroke="#000" stroke-width="0.39">2</text>
<text transform="translate(192.81 164.75) scale(1.066 1.077)" font-size="16" stroke="#000" stroke-width="0.37">.</text>
<text transform="translate(198.65 164.75) scale(1.021 1.011)" font-size="16" stroke="#000" stroke-width="0.39">2</text>
</g>
</svg></body></html>
